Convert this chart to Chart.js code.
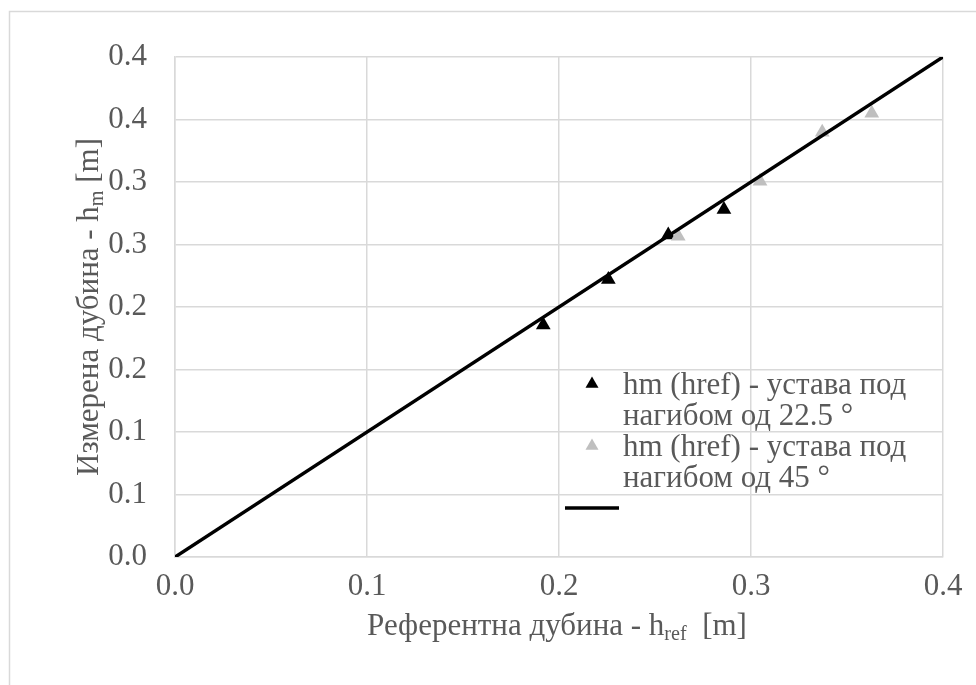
<!DOCTYPE html>
<html>
<head>
<meta charset="utf-8">
<script src="https://cdn.jsdelivr.net/npm/chart.js@4.4.1/dist/chart.umd.min.js"></script>
<style>
  html, body { margin: 0; padding: 0; background: #fff; }
  canvas { display: block; }
</style>
</head>
<body>
<canvas id="chartCanvas" width="976" height="685"></canvas>
<script>
const blackX = [0.1918, 0.2257, 0.2569, 0.2859];
const blackY = [0.1857, 0.2221, 0.2577, 0.2781];
const grayX = [0.2621, 0.3047, 0.3371, 0.3629];
const grayY = [0.2567, 0.3007, 0.3399, 0.3551];
const lineX = [0, 0.4];
const lineY = [0, 0.4];

const xTickValues = [0, 0.1, 0.2, 0.3, 0.4];
const xTickLabels = ["0.0", "0.1", "0.2", "0.3", "0.4"];
const yTickValues = [0, 0.05, 0.1, 0.15, 0.2, 0.25, 0.3, 0.35, 0.4];
const yTickLabels = ["0.0", "0.1", "0.1", "0.2", "0.2", "0.3", "0.3", "0.4", "0.4"];

const seriesNames = [
  ["hm (href) - устава под", "нагибом од 22.5 °"],
  ["hm (href) - устава под", "нагибом од 45 °"],
  [],
];
const xTitleParts = [["Референтна дубина - h", false], ["ref", true], ["  [m]", false]];
const yTitleParts = [["Измерена дубина - h", false], ["m", true], [" [m]", false]];

const FONT = "Liberation Serif";
const TEXT = "#595959";
const GRID = "#d9d9d9";

const toPoints = (xs, ys) => xs.map((x, i) => ({ x, y: ys[i] }));

// text with subscript pieces, centred on (0,0) of the current transform
const drawRich = (ctx, parts, size) => {
  const subSize = size * 0.65;
  let total = 0;
  parts.forEach(([t, sub]) => {
    ctx.font = `${sub ? subSize : size}px "${FONT}"`;
    total += ctx.measureText(t).width;
  });
  let x = -total / 2;
  ctx.textAlign = "left";
  ctx.textBaseline = "alphabetic";
  parts.forEach(([t, sub]) => {
    ctx.font = `${sub ? subSize : size}px "${FONT}"`;
    ctx.fillText(t, x, sub ? size * 0.16 : 0);
    x += ctx.measureText(t).width;
  });
};

const triangle = (ctx, x, y, r) => {
  ctx.beginPath();
  ctx.moveTo(x, y - r);
  ctx.lineTo(x + r * 0.866, y + r / 2);
  ctx.lineTo(x - r * 0.866, y + r / 2);
  ctx.closePath();
  ctx.fill();
};

const decor = {
  id: "decor",
  beforeDraw(chart) {
    const ctx = chart.ctx;
    ctx.save();
    ctx.fillStyle = "#fff";
    ctx.fillRect(0, 0, chart.width, chart.height);
    ctx.strokeStyle = GRID;
    ctx.lineWidth = 1.5;
    ctx.strokeRect(9.5, 11.5, 1200, 1200);
    ctx.restore();
  },
  afterDraw(chart) {
    const ctx = chart.ctx;
    const area = chart.chartArea;
    ctx.save();
    ctx.fillStyle = TEXT;

    // axis titles
    ctx.save();
    ctx.translate((area.left + area.right) / 2 - 2, 635);
    drawRich(ctx, xTitleParts, 31);
    ctx.restore();
    ctx.save();
    ctx.translate(98, (area.top + area.bottom) / 2);
    ctx.rotate(-Math.PI / 2);
    drawRich(ctx, yTitleParts, 31);
    ctx.restore();

    // legend inside the plot
    const ds = chart.data.datasets;
    const rows = [383, 445];
    ctx.font = `31px "${FONT}"`;
    ctx.textAlign = "left";
    ctx.textBaseline = "alphabetic";
    [0, 1].forEach((i) => {
      ctx.fillStyle = ds[i].backgroundColor;
      triangle(ctx, 592, rows[i] + 1, 7.5);
      ctx.fillStyle = TEXT;
      seriesNames[i].forEach((line, j) => {
        ctx.fillText(line, 623, rows[i] + 11 + j * 31);
      });
    });
    ctx.strokeStyle = ds[2].borderColor;
    ctx.lineWidth = ds[2].borderWidth;
    ctx.beginPath();
    ctx.moveTo(565, 508);
    ctx.lineTo(619, 508);
    ctx.stroke();
    ctx.restore();
  },
};

document.addEventListener("DOMContentLoaded", () => {
  const ctx = document.getElementById("chartCanvas").getContext("2d");

  new Chart(ctx, {
    type: "scatter",
    data: {
      datasets: [
        {
          label: seriesNames[0].join(" "),
          data: toPoints(blackX, blackY),
          backgroundColor: "#000000",
          borderColor: "#000000",
          pointStyle: "triangle",
          pointRadius: 8.5,
          pointBorderWidth: 0,
          order: 2,
        },
        {
          label: seriesNames[1].join(" "),
          data: toPoints(grayX, grayY),
          backgroundColor: "#bfbfbf",
          borderColor: "#bfbfbf",
          pointStyle: "triangle",
          pointRadius: 8.5,
          pointBorderWidth: 0,
          order: 1,
        },
        {
          label: "",
          type: "line",
          data: toPoints(lineX, lineY),
          borderColor: "#000000",
          backgroundColor: "#000000",
          borderWidth: 3.5,
          pointRadius: 0,
          fill: false,
          order: 0,
        },
      ],
    },
    options: {
      responsive: false,
      animation: false,
      devicePixelRatio: 1,
      layout: { padding: { top: 57, right: 33, left: 0, bottom: 0 } },
      plugins: {
        legend: { display: false },
        tooltip: { enabled: false },
      },
      scales: {
        x: {
          type: "linear",
          min: 0,
          max: 0.4,
          afterBuildTicks: (s) => { s.ticks = xTickValues.map((v) => ({ value: v })); },
          afterFit: (s) => { s.height = 128; },
          ticks: {
            callback: (v, i) => xTickLabels[i],
            color: TEXT,
            font: { family: FONT, size: 31 },
            padding: 11,
            maxRotation: 0,
          },
          grid: { color: GRID, lineWidth: 1.5, drawTicks: false },
          border: { color: GRID, width: 1.5 },
        },
        y: {
          type: "linear",
          min: 0,
          max: 0.4,
          afterBuildTicks: (s) => { s.ticks = yTickValues.map((v) => ({ value: v })); },
          afterFit: (s) => { s.width = 175; },
          ticks: {
            callback: (v, i) => yTickLabels[i],
            color: TEXT,
            font: { family: FONT, size: 31 },
            padding: 28,
          },
          grid: { color: GRID, lineWidth: 1.5, drawTicks: false },
          border: { color: GRID, width: 1.5 },
        },
      },
    },
    plugins: [decor],
  });
});
</script>
</body>
</html>
